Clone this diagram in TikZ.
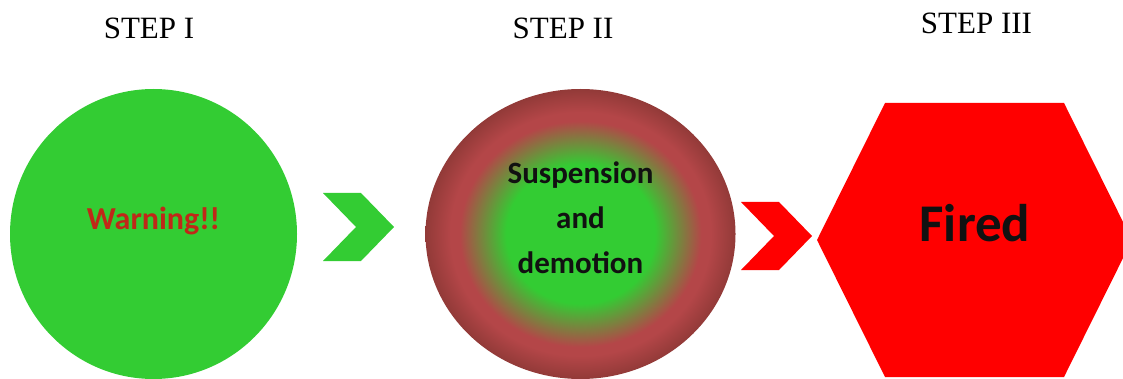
\documentclass[tikz,border=0pt]{standalone}
\usepackage{fontspec}
\setmainfont{Liberation Serif}
\newfontfamily\calibri{Carlito}
\usetikzlibrary{shapes.geometric,positioning}

\definecolor{stepgreen}{RGB}{51,204,51}
\definecolor{warnred}{RGB}{192,40,24}
\definecolor{ringred}{RGB}{180,70,72}
\definecolor{edgered}{RGB}{146,58,56}
\definecolor{firered}{RGB}{255,0,0}
\definecolor{inkblack}{RGB}{17,17,17}

\pgfdeclareradialshading{suspshade}{\pgfpoint{0bp}{0bp}}{%
  color(0bp)=(stepgreen); color(12bp)=(stepgreen); color(19.5bp)=(ringred);
  color(21bp)=(ringred); color(25bp)=(edgered); color(50bp)=(edgered)}

% chevron, given by its top left corner
\newcommand\chevron[2]{\fill[#1] (#2) -- ++(38,0) -- ++(33,34) -- ++(-33,34)
  -- ++(-38,0) -- ++(33,-34) -- cycle;}

\begin{document}
\begin{tikzpicture}[x=1pt,y=-1pt,
    steptitle/.style={anchor=base,font=\fontsize{31}{36}\selectfont},
    stepblob/.style={ellipse,inner sep=0pt,minimum width=#1},
    boldtext/.style={font=\calibri\bfseries\fontsize{#1}{45}\selectfont}]
\useasboundingbox (0,0) rectangle (1123,379);
\clip (0,0) rectangle (1123,379);

\node [steptitle] (title1) at (149,38.5) {STEP I};
\node [steptitle] (title2) at (563,38.5) {STEP II};
\node [steptitle] (title3) at (976.5,33.5) {STEP III};

\node [stepblob=287pt,minimum height=290pt,fill=stepgreen] (warn) at (153.5,234) {};
\node [boldtext=32,text=warnred,anchor=base] at (153.5,229.5) {Warning!!};

\chevron{stepgreen}{323,193}

\node [stepblob=310pt,minimum height=290pt,shading=suspshade] (susp) at (580.5,234) {};
\node [boldtext=31,text=inkblack,align=center] at (580.5,218) {Suspension\\ and\\ demotion};

\chevron{firered}{741,202}

\fill [firered] (817,240) -- (885,103) -- (1064,103) -- (1132,240)
    -- (1064,377) -- (885,377) -- cycle;
\node [boldtext=53,text=inkblack,anchor=base] (fired) at (975,241.5) {Fired};
\end{tikzpicture}
\end{document}
